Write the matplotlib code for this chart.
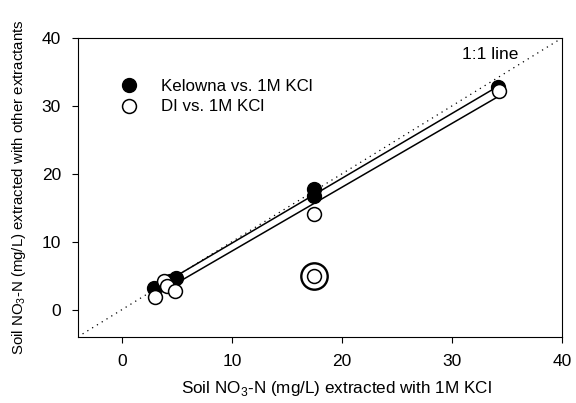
import numpy as np
import matplotlib
matplotlib.use("Agg")
import matplotlib.pyplot as plt

plt.rcParams['font.family'] = ['Liberation Sans', 'DejaVu Sans']
plt.rcParams['mathtext.fontset'] = 'custom'
plt.rcParams['mathtext.rm'] = 'Liberation Sans'

kel_x = [2.9, 4.4, 4.9, 17.5, 17.5, 34.2]
kel_y = [3.2, 4.3, 4.6, 17.7, 16.7, 32.7]
di_x = [3.0, 3.8, 4.1, 4.8, 17.5, 34.3]
di_y = [1.9, 4.3, 3.5, 2.8, 14.1, 32.2]
outlier_x = [17.5]
outlier_y = [4.9]
ticks = [0, 10, 20, 30, 40]

fig = plt.figure(figsize=(5.76, 4.03), dpi=100)
ax = fig.add_axes([0.135, 0.164, 0.841, 0.742])

ax.plot([-4, 40], [-4, 40], linestyle=(0, (1, 3.5)), color='black', lw=0.9)

for xs, ys in ((kel_x, kel_y), (di_x, di_y)):
    k, b = np.polyfit(xs, ys, 1)
    xx = np.array([min(xs), max(xs)])
    ax.plot(xx, k * xx + b, color='black', lw=1.1, zorder=2)

ax.plot(kel_x, kel_y, 'o', ms=10, mfc='black', mec='black', zorder=3,
        label='Kelowna vs. 1M KCl')
ax.plot(di_x + outlier_x, di_y + outlier_y, 'o', ms=10, mfc='white',
        mec='black', mew=1.1, zorder=4, label='DI vs. 1M KCl')
ax.plot(outlier_x, outlier_y, 'o', ms=19, mfc='none', mec='black',
        mew=1.7, zorder=4)

ax.set_xlim(-4, 40)
ax.set_ylim(-4, 40)
ax.set_xticks(ticks)
ax.set_yticks(ticks)
ax.tick_params(direction='out', length=4, labelsize=12.5, pad=8,
               top=False, right=False)

ax.text(36.0, 37.5, '1:1 line', fontsize=12.5, ha='right', va='center')

leg = ax.legend(loc='upper left', bbox_to_anchor=(0.088, 0.863), frameon=False,
                fontsize=12.2, handletextpad=1.37, labelspacing=0.33,
                handlelength=1.0, borderaxespad=0, borderpad=0)

ax.set_xlabel('Soil NO$_3$-N (mg/L) extracted with 1M KCl', fontsize=12.3)
ax.xaxis.set_label_coords(0.535, -0.14)
ax.set_ylabel('Soil NO$_3$-N (mg/L) extracted with other extractants', fontsize=10.8, labelpad=10)

fig.savefig('out.png', dpi=100)
